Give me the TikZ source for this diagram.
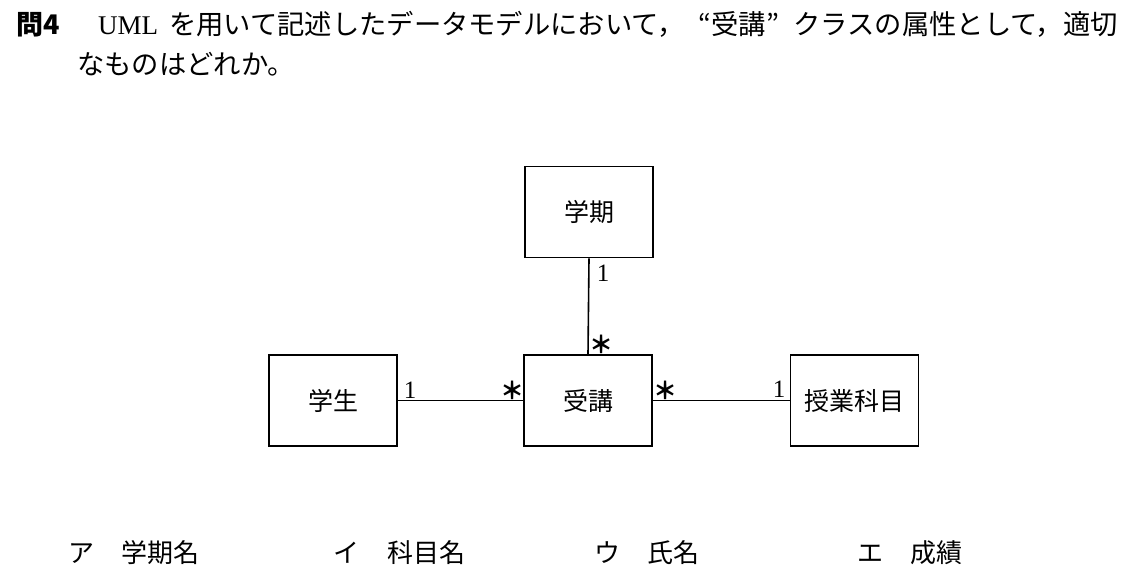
\documentclass[tikz,border=0pt]{standalone}
\usepackage{fontspec}
\setmainfont{Liberation Serif}
\newfontfamily\jp{Noto Sans CJK JP}
\begin{document}
\begin{tikzpicture}[x=1pt,y=-1pt,
  cls/.style={draw=black,line width=1.6pt,minimum width=128pt,minimum height=91pt,inner sep=0pt,font=\jp\fontsize{25}{25}\selectfont},
  conn/.style={line width=1.6pt},
  mult/.style={inner sep=0pt,anchor=center,font=\fontsize{25}{25}\selectfont},
  star/.style={inner sep=0pt,anchor=center,font=\jp\bfseries\fontsize{24}{24}\selectfont},
  qtext/.style={inner sep=0pt,anchor=base west,font=\jp\fontsize{27.3}{27.3}\selectfont},
  opt/.style={inner sep=0pt,anchor=base west,font=\jp\fontsize{26}{26}\selectfont}]
\fill[white] (0,0) rectangle (1143,587);
\useasboundingbox (0,0) rectangle (1143,587);
% question text
\node[qtext,font=\jp\bfseries\fontsize{27}{27}\selectfont] (qno) at (16,34) {問4};
\node[inner sep=0pt,anchor=base west,font=\fontsize{27}{27}\selectfont] (uml) at (98,34) {UML};
\node[qtext] (q1) at (169,34) {を用いて記述したデータモデルにおいて，\makebox[1em][r]{“}受講\makebox[1em][l]{”}クラスの属性として，適切};
\node[qtext] (q2) at (77,74) {なものはどれか。};
% classes
\node[cls] (gakki) at (589,212) {学期};
\node[cls] (gakusei) at (333,400.5) {学生};
\node[cls] (juko) at (588,400.5) {受講};
\node[cls] (jugyo) at (854.5,400.5) {授業科目};
% associations
\draw[conn] (gakusei.east) -- (juko.west);
\draw[conn] (gakki.south) -- (juko.north);
\draw[conn] (juko.east) -- (jugyo.west);
% multiplicities
\node[mult] (m1) at (410,390) {1};
\node[star] (m2) at (512,390) {＊};
\node[mult] (m3) at (603,273) {1};
\node[star] (m4) at (601,344) {＊};
\node[star] (m5) at (665,390) {＊};
\node[mult] (m6) at (779,389) {1};
% options
\node[opt] (oa) at (68,562) {ア};
\node[opt] (oat) at (121,562) {学期名};
\node[opt] (ob) at (333,562) {イ};
\node[opt] (obt) at (387,562) {科目名};
\node[opt] (oc) at (594,562) {ウ};
\node[opt] (oct) at (647,562) {氏名};
\node[opt] (od) at (857,562) {エ};
\node[opt] (odt) at (910,562) {成績};
\end{tikzpicture}
\end{document}
